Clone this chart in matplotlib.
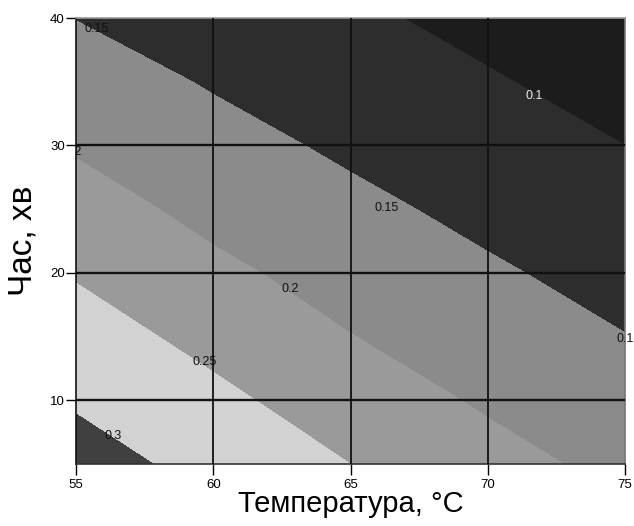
import numpy as np
import matplotlib
matplotlib.use("Agg")
import matplotlib.pyplot as plt

plt.rcParams["font.family"] = ["Liberation Sans", "DejaVu Sans"]

# response surface read on a 5 x 8 grid (rows: time, cols: temperature)
temperature = [55, 60, 65, 70, 75]
time_min = [5, 10, 15, 20, 25, 30, 35, 40]
response = [
    [0.319, 0.285, 0.250, 0.216, 0.187],
    [0.295, 0.261, 0.225, 0.194, 0.169],
    [0.271, 0.236, 0.201, 0.175, 0.151],
    [0.246, 0.210, 0.181, 0.156, 0.134],
    [0.220, 0.187, 0.161, 0.138, 0.117],
    [0.195, 0.166, 0.142, 0.121, 0.100],
    [0.172, 0.146, 0.125, 0.104, 0.083],
    [0.149, 0.128, 0.108, 0.087, 0.066],
]

levels = [0.0, 0.1, 0.15, 0.2, 0.25, 0.3, 0.4]
fill_colors = ["#1c1c1c", "#2d2d2d", "#8b8b8b", "#9a9a9a", "#d2d2d2", "#404040"]

# contour labels: (text level, temperature, time)
label_levels = [0.15, 0.2, 0.15, 0.1, 0.1, 0.2, 0.25, 0.3]
label_x = [55.75, 54.9, 66.3, 71.7, 75.0, 62.8, 59.7, 56.35]
label_y = [39.1, 29.5, 25.1, 33.9, 14.8, 18.75, 13.0, 7.2]
label_colors = ["#111111", "#111111", "#111111", "#e8e8e8", "#111111", "#111111", "#111111", "#111111"]

X, Y = np.meshgrid(temperature, time_min)
Z = np.array(response)

fig = plt.figure(figsize=(6.34, 5.26), dpi=100)
ax = fig.add_axes([76 / 634, 1 - 464 / 526, (625 - 76) / 634, (464 - 18) / 526])

ax.contourf(X, Y, Z, levels=levels, colors=fill_colors, antialiased=False)

for lev, lx, ly, c in zip(label_levels, label_x, label_y, label_colors):
    ax.text(lx, ly, f"{lev:g}", fontsize=9, color=c, ha="center", va="center",
            clip_on=(lx < 55.5))

# grid
for gx in [60, 65, 70]:
    ax.axvline(gx, color="#111111", lw=1.3, zorder=3)
for gy in [10, 20, 30]:
    ax.axhline(gy, color="#111111", lw=1.7, zorder=3)

ax.set_xlim(55, 75)
ax.set_ylim(5, 40)
ax.set_xticks([55, 60, 65, 70, 75])
ax.set_yticks([10, 20, 30, 40])
ax.tick_params(axis="x", direction="out", length=8, width=1, pad=3, labelsize=9.5)
ax.tick_params(axis="y", direction="out", length=7, width=1, pad=1, labelsize=9.5)

ax.spines["left"].set_color("#111111")
ax.spines["bottom"].set_color("#333333")
ax.spines["top"].set_color("#999999")
ax.spines["right"].set_color("#777777")
for s in ax.spines.values():
    s.set_linewidth(1.2)

ax.set_xlabel("Температура, °C", fontsize=21, labelpad=-1)
ax.set_ylabel("Час, хв", fontsize=24, labelpad=8)

fig.savefig("out.png", dpi=100)
